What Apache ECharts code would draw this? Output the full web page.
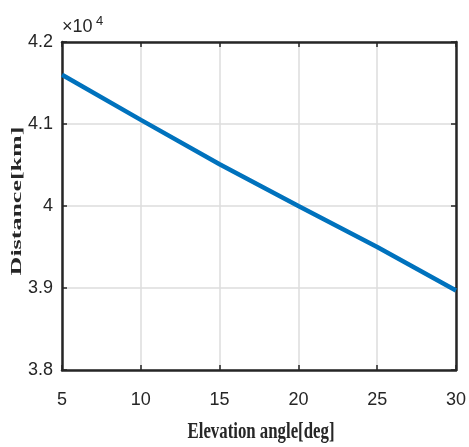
<!DOCTYPE html>
<html>
<head>
<meta charset="utf-8">
<script src="https://cdn.jsdelivr.net/npm/echarts@6/dist/echarts.min.js"></script>
<style>
  html, body { margin: 0; padding: 0; background: #fff; }
  #main { width: 469px; height: 447px; }
</style>
</head>
<body>
<div id="main"></div>
<script>
// elevation angle [deg] and slant distance [km]
var elevation = [5, 10, 15, 20, 25, 30];
var distance = [41600, 41050, 40510, 40000, 39500, 38970];
var yTicks = [38000, 39000, 40000, 41000, 42000];

var axisColor = '#262626';
var tickFont = 'Liberation Sans, Arial, sans-serif';

var pts = [];
for (var i = 0; i < elevation.length; i++) {
  pts.push([elevation[i], distance[i]]);
}

var chart = echarts.init(document.getElementById('main'));

function frameAxis(pos, isX) {
  var ax = {
    type: 'value',
    position: pos,
    axisLine: { show: true, onZero: false, lineStyle: { color: axisColor, width: 2.5 } },
    axisTick: { show: true, inside: true, length: 5, lineStyle: { color: axisColor, width: 1.5 } },
    axisLabel: { show: false },
    splitLine: { show: false }
  };
  if (isX) { ax.min = 5; ax.max = 30; ax.interval = 5; }
  else { ax.min = yTicks[0]; ax.max = yTicks[yTicks.length - 1]; ax.interval = 1000; }
  return ax;
}

var xBottom = frameAxis('bottom', true);
xBottom.splitLine = { show: true, lineStyle: { color: '#dcdcdc', width: 1.5 } };
xBottom.axisLabel = { show: true, color: axisColor, fontSize: 18, fontFamily: tickFont, margin: 21 };

var yLeft = frameAxis('left', false);
yLeft.splitLine = { show: true, lineStyle: { color: '#dcdcdc', width: 1.5 } };
yLeft.axisLabel = {
  show: true, color: axisColor, fontSize: 18, fontFamily: tickFont, margin: 9,
  formatter: function (v) { return String(+(v / 10000).toFixed(1)); }
};

var option = {
  backgroundColor: '#fff',
  animation: false,
  grid: { left: 62, top: 42, right: 9, bottom: 77 },
  xAxis: [xBottom, frameAxis('top', true)],
  yAxis: [yLeft, frameAxis('right', false)],
  series: [{
    type: 'line',
    data: pts,
    showSymbol: false,
    lineStyle: { color: '#0072BD', width: 4.5 },
    itemStyle: { color: '#0072BD' }
  }],
  graphic: [
    {
      type: 'text', x: 62, y: 36,
      style: { text: '×10', fontSize: 18, fontFamily: tickFont, fill: axisColor, verticalAlign: 'bottom' }
    },
    {
      type: 'text', x: 96, y: 28,
      style: { text: '4', fontSize: 13, fontFamily: tickFont, fill: axisColor, verticalAlign: 'bottom' }
    },
    {
      type: 'text', x: 261, y: 432, scaleX: 0.7,
      style: { text: 'Elevation angle[deg]', fontSize: 24, fontWeight: 'bold', fontFamily: 'Liberation Serif, Times New Roman, serif', fill: axisColor, align: 'center', verticalAlign: 'middle' }
    },
    {
      type: 'text', x: 17, y: 201, rotation: Math.PI / 2, scaleY: 0.6,
      style: { text: 'Distance[km]', fontSize: 26, fontWeight: 'bold', fontFamily: 'Liberation Serif, Times New Roman, serif', fill: axisColor, align: 'center', verticalAlign: 'middle' }
    }
  ]
};

chart.setOption(option);
</script>
</body>
</html>
